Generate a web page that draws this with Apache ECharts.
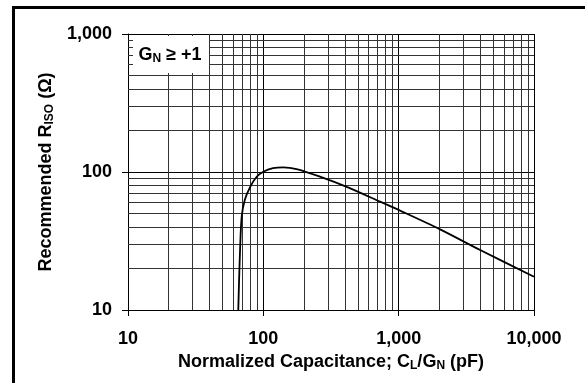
<!DOCTYPE html>
<html>
<head>
<meta charset="utf-8">
<script src="https://cdn.jsdelivr.net/npm/echarts@6/dist/echarts.min.js"></script>
<style>
html,body{margin:0;padding:0;background:#fff;}
#chart{width:585px;height:383px;}
</style>
</head>
<body>
<div id="chart"></div>
<script>
// Data
const capacitance = [65.3, 66.1, 67.3, 69.2, 73, 80, 89, 100, 118, 140, 176, 262, 413, 728, 1024, 2023, 4000, 10000];
const riso        = [10,   15.6, 27.2, 47.5, 63, 78, 92, 100.5, 106.5, 108, 105, 92.5, 78, 61, 52.5, 38.4, 27.2, 17.4];
const xTickLabels = {10: '10', 100: '100', 1000: '1,000', 10000: '10,000'};
const yTickLabels = {10: '10', 100: '100', 1000: '1,000'};
const xMinorGrid = [20,30,40,50,60,70,80,90,200,300,400,500,600,700,800,900,2000,3000,4000,5000,6000,7000,8000,9000];
const yMinorGrid = [20,30,40,50,60,70,80,90,200,300,400,500,600,700,800,900];

const FONT = '"Liberation Sans", Arial, sans-serif';
const chart = echarts.init(document.getElementById('chart'));

const minorLines = xMinorGrid.map(v => ({xAxis: v})).concat(yMinorGrid.map(v => ({yAxis: v})));
const richTitle = {
  b: {fontFamily: FONT, fontWeight: 'bold', fontSize: 18, color: '#000'},
  s: {fontFamily: FONT, fontWeight: 'bold', fontSize: 12, color: '#000', padding: [8, 0, 0, 0]}
};

chart.setOption({
  animation: false,
  backgroundColor: '#fff',
  grid: {left: 128, right: 51, top: 34, bottom: 73},
  xAxis: {
    type: 'log', logBase: 10, min: 10, max: 10000,
    name: '{b|Normalized Capacitance; C}{s|L}{b|/G}{s|N}{b| (pF)}',
    nameLocation: 'middle', nameGap: 41,
    nameTextStyle: {fontFamily: FONT, fontWeight: 'bold', fontSize: 18, color: '#000', rich: richTitle},
    axisLine: {show: true, lineStyle: {color: '#000', width: 1}},
    axisTick: {show: true, inside: false, length: 6, lineStyle: {color: '#000'}},
    axisLabel: {
      margin: 20, fontFamily: FONT, fontWeight: 'bold', fontSize: 18, color: '#000',
      formatter: v => xTickLabels[Math.round(v)] || ''
    },
    splitLine: {show: true, lineStyle: {color: '#000', width: 1}}
  },
  yAxis: {
    type: 'log', logBase: 10, min: 10, max: 1000,
    name: '{b|Recommended R}{s|ISO}{b| (Ω)}',
    nameLocation: 'middle', nameGap: 66, nameRotate: 90,
    nameTextStyle: {fontFamily: FONT, fontWeight: 'bold', fontSize: 18, color: '#000', rich: richTitle},
    axisLine: {show: true, lineStyle: {color: '#000', width: 1}},
    axisTick: {show: true, inside: false, length: 6, lineStyle: {color: '#000'}},
    axisLabel: {
      margin: 16, fontFamily: FONT, fontWeight: 'bold', fontSize: 18, color: '#000',
      formatter: v => yTickLabels[Math.round(v)] || ''
    },
    splitLine: {show: true, lineStyle: {color: '#000', width: 1}}
  },
  graphic: [
    {
      type: 'rect', z: 100,
      shape: {x: 13.5, y: 7.5, width: 800, height: 600},
      style: {fill: 'none', stroke: '#000', lineWidth: 3}
    },
    {
      type: 'rect', z: 100,
      shape: {x: 133, y: 36, width: 76, height: 37},
      style: {fill: '#fff', stroke: 'none'}
    },
    {
      type: 'text', z: 101, x: 170, y: 55,
      style: {
        text: '{b|G}{s|N}{b| ≥ +1}',
        align: 'center', verticalAlign: 'middle',
        rich: {
          b: {fontFamily: FONT, fontWeight: 'bold', fontSize: 18, fill: '#000'},
          s: {fontFamily: FONT, fontWeight: 'bold', fontSize: 12, fill: '#000', padding: [8, 0, 0, 0]}
        }
      }
    }
  ],
  series: [
    {
      type: 'line',
      data: capacitance.map((c, i) => [c, riso[i]]),
      smooth: 0.3,
      symbol: 'none',
      lineStyle: {color: '#000', width: 1.8},
      z: 5,
      markLine: {
        silent: true, symbol: ['none', 'none'], label: {show: false},
        lineStyle: {color: '#333', width: 1, type: 'solid'},
        data: minorLines,
        z: 1
      }
    }
  ]
});
</script>
</body>
</html>
